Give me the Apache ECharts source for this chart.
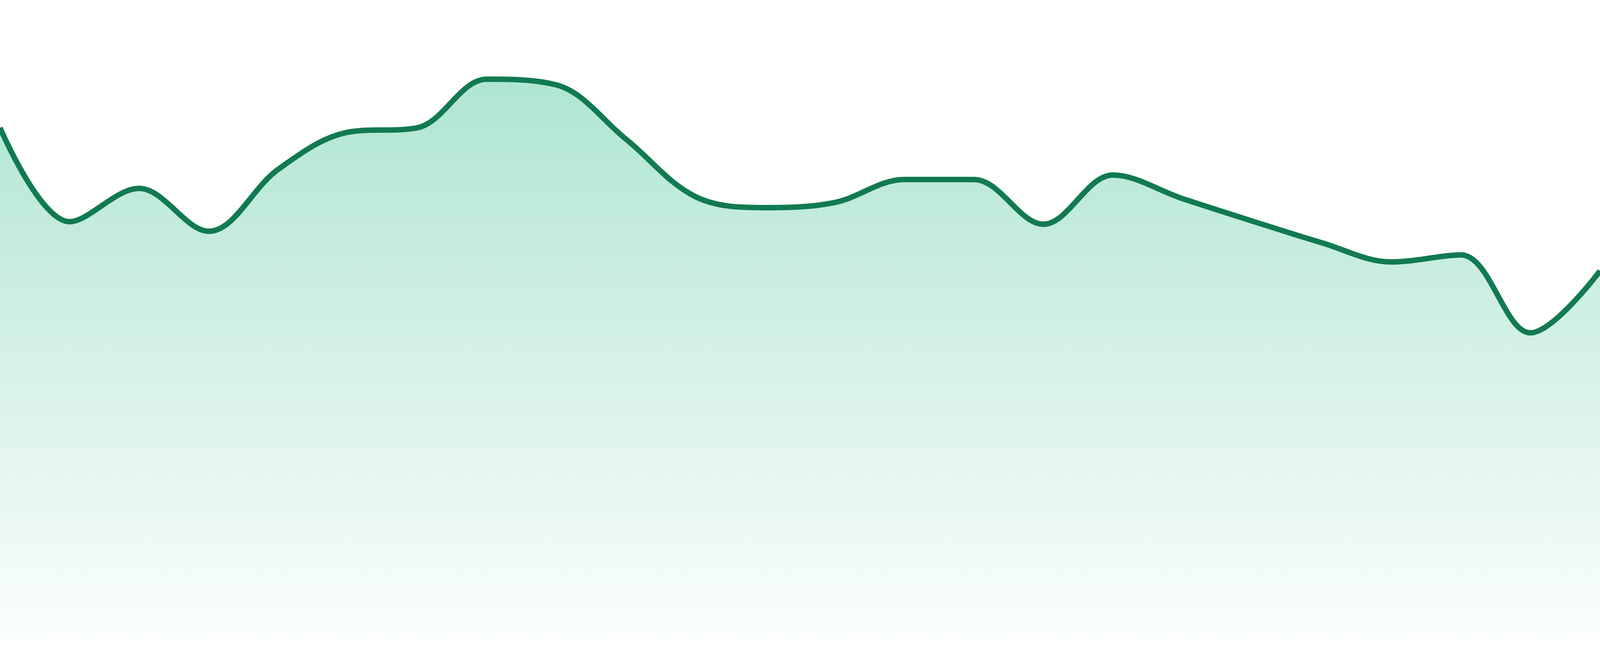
<!DOCTYPE html>
<html>
<head>
<meta charset="utf-8">
<title>Area</title>
<script src="https://cdn.jsdelivr.net/npm/echarts@6/dist/echarts.min.js"></script>
<style>
  html, body { margin: 0; padding: 0; background: #ffffff; overflow: hidden; }
  #main { width: 100vw; height: 100vh; }
</style>
</head>
<body>
<div id="main"></div>
<script>
// 24 hourly points, axis labels are hidden in the picture
var hours = ['00:00', '01:00', '02:00', '03:00', '04:00', '05:00', '06:00', '07:00',
             '08:00', '09:00', '10:00', '11:00', '12:00', '13:00', '14:00', '15:00',
             '16:00', '17:00', '18:00', '19:00', '20:00', '21:00', '22:00', '23:00'];
var values = [80.0, 65.3, 70.5, 63.8, 73.5, 79.3, 80.0, 87.6,
              86.7, 78.2, 69.2, 67.5, 68.3, 71.9, 71.9, 64.9,
              72.6, 68.9, 65.4, 62.0, 59.0, 60.1, 47.9, 57.6];
var yMin = 0;
var yMax = 100;

var chart = echarts.init(document.getElementById('main'));
chart.setOption({
    animation: false,
    grid: { left: 0, right: 0, top: 0, bottom: 44 },
    xAxis: {
        type: 'category',
        data: hours,
        boundaryGap: false,
        show: false
    },
    yAxis: {
        type: 'value',
        min: yMin,
        max: yMax,
        show: false
    },
    series: [{
        type: 'line',
        data: values,
        smooth: 0.35,
        symbol: 'none',
        lineStyle: { color: '#117a50', width: 14 },
        areaStyle: {
            opacity: 1,
            color: new echarts.graphic.LinearGradient(0, 0, 0, 1, [
                { offset: 0, color: 'rgba(22, 180, 124, 0.34)' },
                { offset: 1, color: 'rgba(22, 180, 124, 0.02)' }
            ])
        }
    }]
});
window.addEventListener('resize', function () { chart.resize(); });
</script>
</body>
</html>
